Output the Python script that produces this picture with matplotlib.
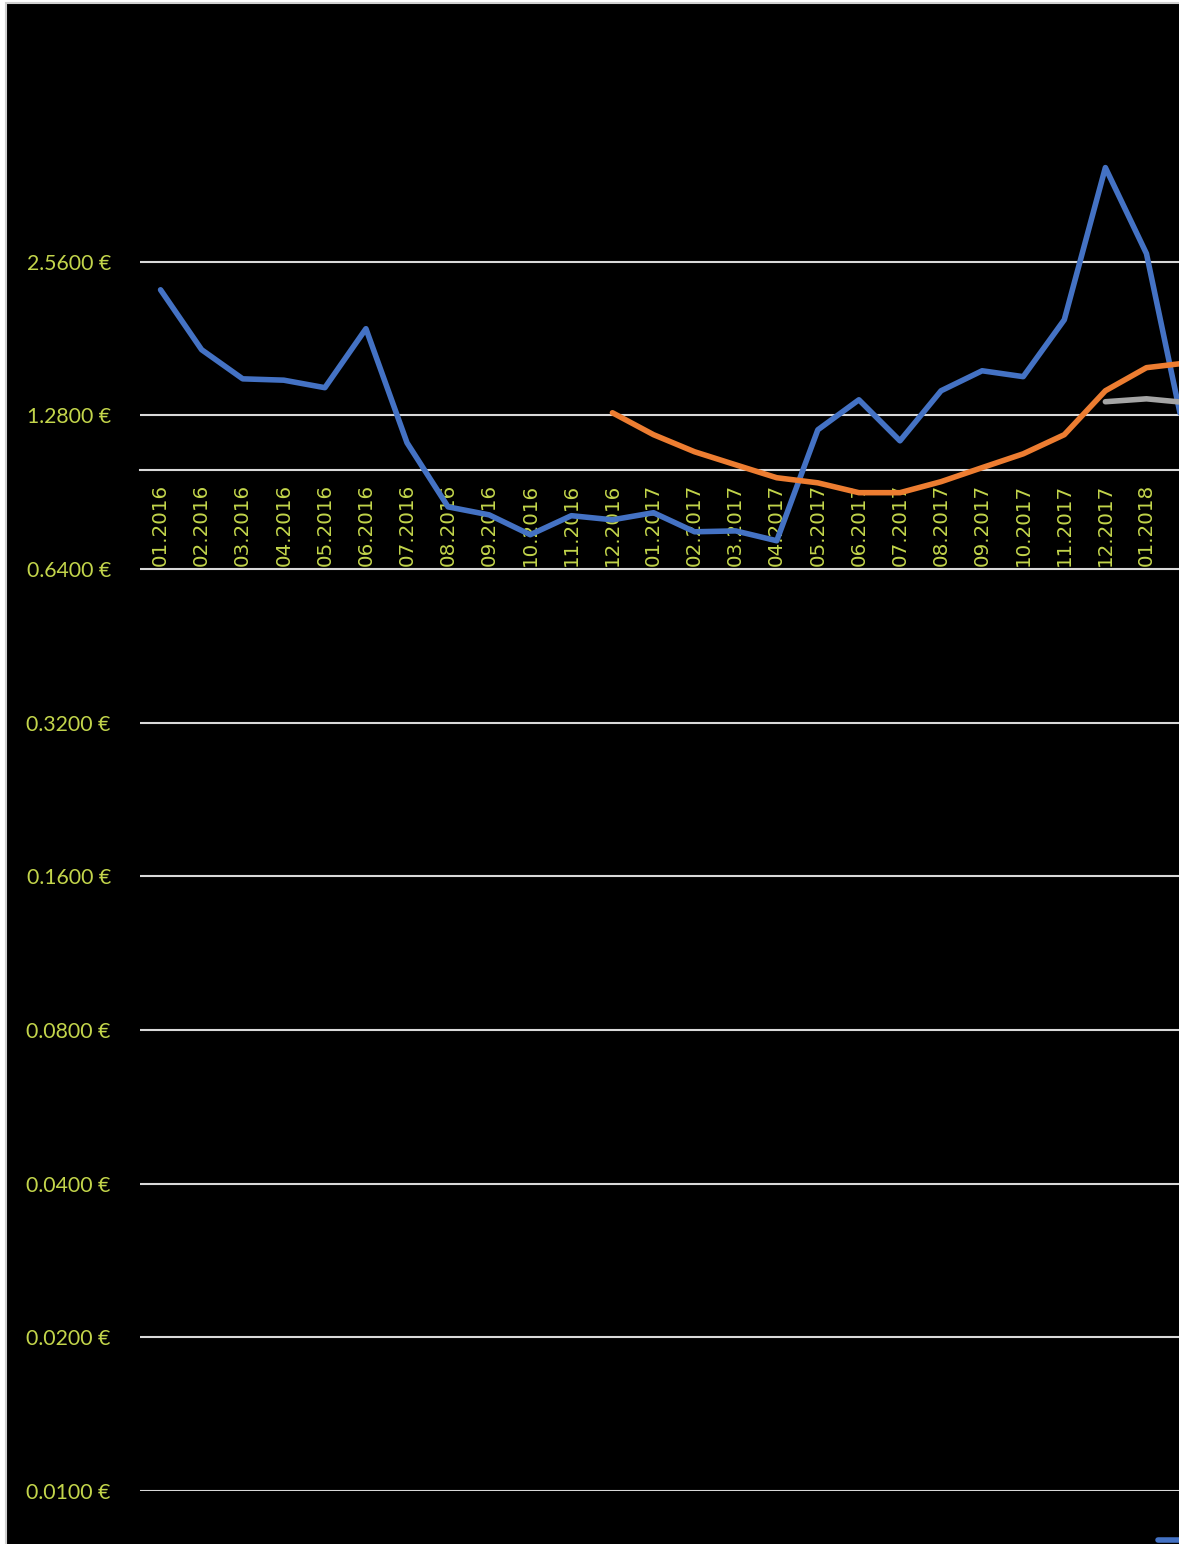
import matplotlib
matplotlib.use("Agg")
import matplotlib.pyplot as plt
import numpy as np
from matplotlib.patches import Rectangle
from matplotlib.ticker import FixedLocator, NullLocator

categories = ["01.2016", "02.2016", "03.2016", "04.2016", "05.2016", "06.2016",
              "07.2016", "08.2016", "09.2016", "10.2016", "11.2016", "12.2016",
              "01.2017", "02.2017", "03.2017", "04.2017", "05.2017", "06.2017",
              "07.2017", "08.2017", "09.2017", "10.2017", "11.2017", "12.2017",
              "01.2018", "02.2018"]

blue = [2.255, 1.721, 1.509, 1.500, 1.450, 1.892, 1.131, 0.847, 0.817, 0.747,
        0.814, 0.799, 0.825, 0.757, 0.760, 0.727, 1.199, 1.373, 1.141, 1.430,
        1.565, 1.524, 1.970, 3.913, 2.655, 1.10]
orange = [None] * 11 + [1.295, 1.173, 1.086, 1.024, 0.966, 0.944, 0.903, 0.903,
                        0.949, 1.011, 1.076, 1.173, 1.430, 1.587, 1.622]
gray = [None] * 23 + [1.361, 1.379, 1.355]

yticks = [0.01, 0.02, 0.04, 0.08, 0.16, 0.32, 0.64, 1.28, 2.56]

W, H = 1179, 1544
fig = plt.figure(figsize=(W / 100, H / 100), dpi=100, facecolor="white")
bg = Rectangle((5.5 / W, -0.1), 1.2, 1.1 - 2.5 / H,
               transform=fig.transFigure, facecolor="black",
               edgecolor="#d0d0d0", linewidth=1.5, zorder=-10)
fig.patches.append(bg)

n = len(categories)
spacing = 41.08
left = 140 / W
width = n * spacing / W
bottom = (H - 1491) / H
top = 1 - 108 / H
ax = fig.add_axes([left, bottom, width, top - bottom])
ax.set_zorder(5)
ax.set_facecolor("none")

x = np.arange(n)
def to_arr(s):
    return np.array([np.nan if v is None else v for v in s], dtype=float)

lw = 4.0
ax.plot(x, to_arr(blue), color="#4472C4", lw=lw, solid_capstyle="round", zorder=3, label="Series 1")
ax.plot(x, to_arr(orange), color="#ED7D31", lw=lw, solid_capstyle="round", zorder=3, label="Series 2")
ax.plot(x, to_arr(gray), color="#A5A5A5", lw=lw, solid_capstyle="round", zorder=3, label="Series 3")

ax.set_yscale("log", base=2)
ax.set_ylim(0.01, 5.12)
ax.set_xlim(-0.5, n - 0.5)
ax.yaxis.set_major_locator(FixedLocator(yticks))
ax.yaxis.set_minor_locator(NullLocator())
ax.set_yticks(yticks)
ax.set_yticklabels([f"{v:.4f} €" for v in yticks])
ax.set_xticks(x)
ax.set_xticklabels(categories)

txtcol = "#C3D54B"
font = ["Lato", "DejaVu Sans"]
fs = 15.3
ax.tick_params(axis="y", length=0, pad=21, labelsize=fs, labelcolor=txtcol)
ax.tick_params(axis="x", length=0, pad=10, labelsize=14.3, labelcolor=txtcol,
               labelrotation=90)
for lab in ax.get_yticklabels():
    lab.set_family(font)
xlabs = ax.get_xticklabels()
for lab in xlabs:
    lab.set_family(font)
# the last category label lies outside the visible chart area in the original
xlabs[-1].set_visible(False)

ax.grid(axis="y", color="#d9d9d9", lw=1.5, zorder=1)
ax.grid(axis="x", visible=False)
for s in ["top", "right", "left"]:
    ax.spines[s].set_visible(False)
ax.spines["bottom"].set_position(("data", 1.0))
ax.spines["bottom"].set_color("#d9d9d9")
ax.spines["bottom"].set_linewidth(1.5)
ax.spines["bottom"].set_zorder(1)

leg = fig.legend(loc="upper left", bbox_to_anchor=(1158 / W, 1 - 1531 / H),
                 frameon=False, ncol=3, handlelength=2.0,
                 labelcolor=txtcol, borderaxespad=0, borderpad=0,
                 prop={"family": font, "size": fs})
leg.set_zorder(6)

fig.savefig("out.png", dpi=100, facecolor="white")
